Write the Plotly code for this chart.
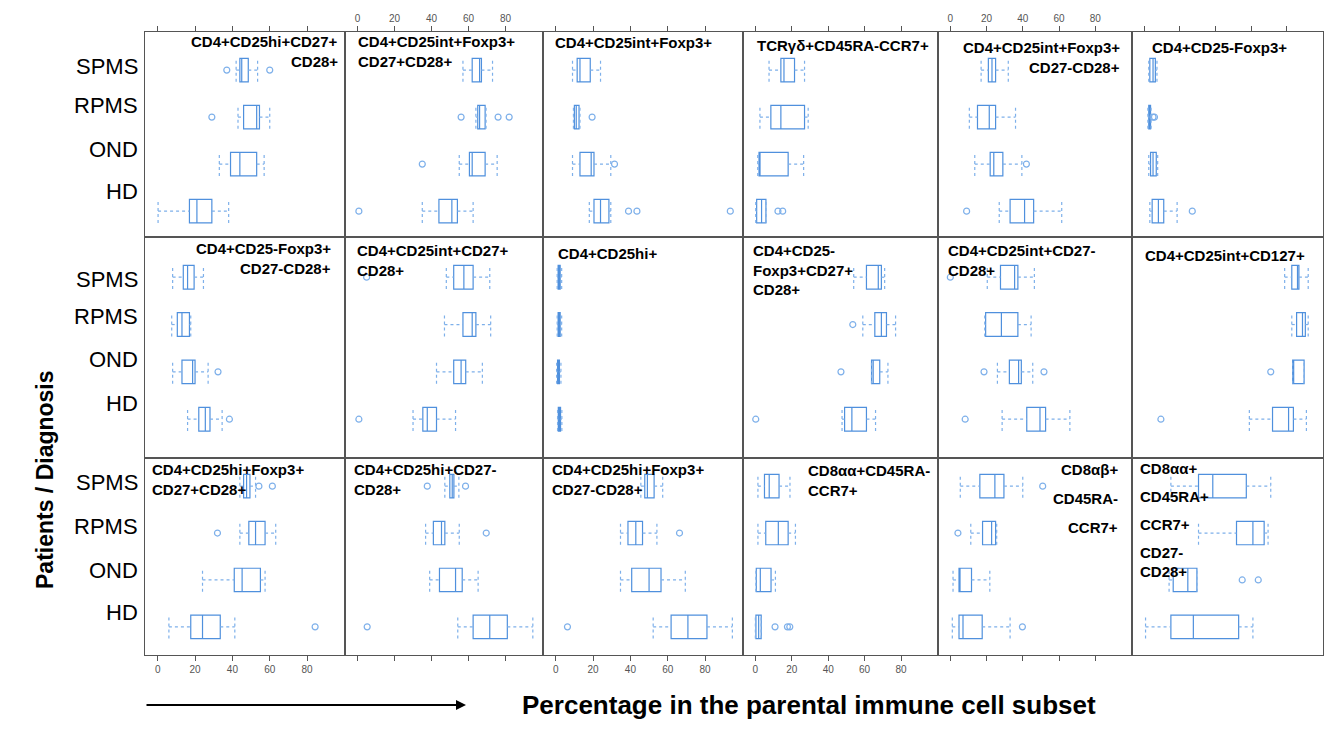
import plotly.graph_objects as go
from plotly.subplots import make_subplots

# ---------------- data ----------------
groups = ["SPMS", "RPMS", "OND", "HD"]
group_pos = [3, 2, 1, 0]

panel_titles = [
    ["CD4+CD25hi+CD27+", "CD28+"],
    ["CD4+CD25int+Foxp3+", "CD27+CD28+"],
    ["CD4+CD25int+Foxp3+"],
    ["TCRγδ+CD45RA-CCR7+"],
    ["CD4+CD25int+Foxp3+", "CD27-CD28+"],
    ["CD4+CD25-Foxp3+"],
    ["CD4+CD25-Foxp3+", "CD27-CD28+"],
    ["CD4+CD25int+CD27+", "CD28+"],
    ["CD4+CD25hi+"],
    ["CD4+CD25-", "Foxp3+CD27+", "CD28+"],
    ["CD4+CD25int+CD27-", "CD28+"],
    ["CD4+CD25int+CD127+"],
    ["CD4+CD25hi+Foxp3+", "CD27+CD28+"],
    ["CD4+CD25hi+CD27-", "CD28+"],
    ["CD4+CD25hi+Foxp3+", "CD27-CD28+"],
    ["CD8αα+CD45RA-", "CCR7+"],
    ["CD8αβ+", "CD45RA-", "CCR7+"],
    ["CD8αα+", "CD45RA+", "CCR7+", "CD27-", "CD28+"],
]

# per panel, values for [SPMS, RPMS, OND, HD]
lower_whisker = [
    [42, 43, 33, 0.2], [57, 64, 55, 35], [9, 9.5, 9, 18],
    [7.5, 2.5, 1.3, 0.2], [17, 10.5, 13.5, 27], [2.6, 2.1, 2.6, 3.2],
    [8, 7.5, 8, 16], [48, 47, 42.7, 30], [0.8, 0.8, 0.5, 1.0],
    [54, 59, 63.8, 47.6], [20.4, 19, 26, 28.6], [78.8, 82.8, 83.3, 59],
    [44, 44, 24, 6], [47.2, 36.8, 39, 54.2], [45.6, 34.7, 34.7, 52.2],
    [1.4, 1.4, 0.3, 0], [5.5, 11.3, 1.5, 1.1], [15, 30.5, 14, 0.8],
]
q1 = [
    [44, 46, 39, 17], [62, 65, 60.5, 44], [11.5, 10, 13, 20.5],
    [14, 8.5, 2, 0.7], [21, 15, 22, 33], [3.2, 2.6, 3.6, 4.5],
    [13.7, 10.5, 13, 22], [52, 57, 52, 35.3], [1.3, 1.3, 1.0, 1.4],
    [61, 65.6, 63.8, 49], [27.7, 19.5, 32.6, 42.2], [82.8, 85.5, 83.3, 72],
    [46, 48.8, 41, 17.7], [49.9, 41, 44.3, 62.5], [47.7, 38.7, 40.7, 61.8],
    [5, 5.7, 0.5, 0.3], [16.3, 17.8, 4.8, 4.8], [30.5, 51.8, 16.3, 15],
]
median = [
    [45, 53, 44, 21], [66, 66, 62, 51], [13, 11, 19, 24],
    [15.7, 14, 2.5, 3.4], [23, 21.5, 24, 41], [5, 3.2, 5, 8],
    [16, 13, 18.7, 25.5], [57.5, 62, 56, 37.7], [1.8, 1.8, 1.5, 2.0],
    [67.5, 69.2, 64.7, 53], [35.5, 28.2, 37.7, 49.5], [86, 88.8, 83.8, 81],
    [47.6, 52.4, 45.2, 24], [51.2, 45.4, 53, 71.5], [49.1, 42.9, 50, 70.8],
    [7.6, 12.6, 2.7, 1.8], [24.6, 22.8, 5.2, 7], [38.5, 61, 24.5, 27.6],
]
q3 = [
    [48.5, 54.5, 53, 29], [67, 69, 69, 54], [18.5, 12.5, 20.5, 28.5],
    [21.5, 27, 18, 5.8], [25, 25, 29, 46], [6.3, 3.6, 6.8, 11],
    [19.5, 17, 20, 28], [62.5, 64, 58.5, 42.7], [2.4, 2.4, 2.0, 2.6],
    [69.2, 72, 68.3, 61], [37.3, 37.3, 39.2, 52.6], [86.8, 90.4, 89.7, 83.7],
    [49.4, 57.5, 55, 33.5], [52.1, 47.2, 56.6, 81], [52.7, 46.5, 56.4, 81],
    [13, 18, 8.6, 3.2], [29.6, 25, 11.7, 17.6], [57.3, 67.3, 29.6, 53],
]
upper_whisker = [
    [53.5, 60, 57, 38], [73, 69.5, 75.5, 62.5], [24, 13, 29.5, 29.5],
    [27, 29, 26.5, 5.8], [32, 36, 39.5, 61.5], [7.2, 3.9, 7.6, 18.5],
    [24.5, 17.7, 27, 34.5], [71.5, 72, 67.5, 53], [3.2, 3.2, 2.8, 3.3],
    [71, 77, 72.8, 66], [46.4, 44.6, 45.5, 66], [92, 92, 89.7, 91],
    [52.4, 63.2, 57.5, 41.3], [54.8, 55, 65.2, 94.8], [57.3, 54.2, 69.4, 94.6],
    [19, 22, 11, 3.2], [40, 25.6, 21.8, 33], [71, 69.5, 29.6, 61],
]
outliers = [
    [[37, 60], [29], [], []], [[], [56, 76, 82], [35], [0.7]],
    [[], [19.5], [31.5], [39, 43.5, 93.5]], [[], [], [], [12.4, 15]],
    [[], [], [42], [9]], [[], [5, 5.8], [], [27]],
    [[], [], [32.3], [38.4]], [[4.9], [], [], [0.7]],
    [[], [], [], []], [[], [53.5], [47], [0.2]],
    [[0], [], [18.6, 51.7], [8.2]], [[], [], [71], [9.4]],
    [[54.2, 61.4], [32], [], [84.3]], [[37.7, 58.4], [69.6], [], [5.2]],
    [[], [66.3], [], [6.3]], [[], [], [], [10.8, 17.6, 18.9]],
    [[51], [4.2], [], [39.8]], [[], [], [55, 64], []],
]
x_ticks = [0, 20, 40, 60, 80]

# ---------------- layout geometry ----------------
W, H = 1325, 741
col_edges = [145, 345, 543, 743, 938, 1132, 1323]
row_edges = [32, 237, 458, 655]
row_ranges = [[-0.55, 3.81], [-0.82, 3.85], [-0.6, 3.6]]
x_range = [-6.8, 100.3]

BOX_C = "#4f90dd"
WHISK_C = "#7eb0ea"
FRAME_C = "#555555"
FONT = "Arial, Liberation Sans, sans-serif"


def px(x):
    return x / W


def py(y):
    return 1 - y / H


fig = make_subplots(rows=3, cols=6, horizontal_spacing=0, vertical_spacing=0)

for p in range(18):
    r, c = divmod(p, 6)
    # box (quartiles + median), whiskers hidden (drawn separately, dashed)
    fig.add_trace(go.Box(
        y=group_pos, q1=q1[p], median=median[p], q3=q3[p],
        lowerfence=q1[p], upperfence=q3[p], orientation="h",
        width=0.5, boxpoints=False, fillcolor="rgba(0,0,0,0)",
        line=dict(color=BOX_C, width=1.2), hoverinfo="skip", showlegend=False,
    ), row=r + 1, col=c + 1)
    wx, wy, sx, sy, ox, oy = [], [], [], [], [], []
    for g in range(4):
        yv = group_pos[g]
        wx += [lower_whisker[p][g], q1[p][g], None, q3[p][g], upper_whisker[p][g], None]
        wy += [yv, yv, None, yv, yv, None]
        for v in (lower_whisker[p][g], upper_whisker[p][g]):
            sx += [v, v, None]
            sy += [yv - 0.25, yv + 0.25, None]
        for o in outliers[p][g]:
            ox.append(o)
            oy.append(yv)
    fig.add_trace(go.Scatter(x=wx, y=wy, mode="lines",
                             line=dict(color=WHISK_C, width=1.2, dash="3px,3px"),
                             hoverinfo="skip", showlegend=False), row=r + 1, col=c + 1)
    fig.add_trace(go.Scatter(x=sx, y=sy, mode="lines",
                             line=dict(color=WHISK_C, width=1.2, dash="3px,3px"),
                             hoverinfo="skip", showlegend=False), row=r + 1, col=c + 1)
    fig.add_trace(go.Scatter(x=ox, y=oy, mode="markers",
                             marker=dict(symbol="circle-open", size=6,
                                         color=WHISK_C, line=dict(width=1.2)),
                             hoverinfo="skip", showlegend=False), row=r + 1, col=c + 1)

    idx = p + 1
    xa = "xaxis" if idx == 1 else f"xaxis{idx}"
    ya = "yaxis" if idx == 1 else f"yaxis{idx}"
    xdict = dict(
        domain=[px(col_edges[c]), px(col_edges[c + 1])],
        range=x_range, showgrid=False, zeroline=False, automargin=False,
        showline=True, mirror=True, linecolor=FRAME_C, linewidth=1,
        tickvals=x_ticks, ticklen=5, tickcolor=FRAME_C,
        tickfont=dict(size=10, color="#555", family=FONT),
    )
    if r == 0:
        xdict.update(side="top", ticks="outside", showticklabels=(c in (1, 4)))
    elif r == 2:
        xdict.update(side="bottom", ticks=("outside" if c < 5 else ""),
                     showticklabels=(c in (0, 2, 3)))
    else:
        xdict.update(ticks="", showticklabels=False)
    ydict = dict(
        domain=[py(row_edges[r + 1]), py(row_edges[r])],
        range=row_ranges[r], showgrid=False, zeroline=False, automargin=False,
        showline=True, mirror=True, linecolor=FRAME_C, linewidth=1,
        showticklabels=False, ticks="",
    )
    fig.layout[xa].update(xdict)
    fig.layout[ya].update(ydict)

annotations = []

# panel titles: (x px, first-line y px, line spacing, anchor)
title_place = [
    (340, 42, 19, "right"), (356, 42, 19, "left"), (553, 43, 19, "left"),
    (755, 45, 19, "left"), (1122, 48, 20, "right"), (1150, 48, 19, "left"),
    (333, 249, 19, "right"), (355, 250, 20, "left"), (556, 253, 19, "left"),
    (751, 251, 19.5, "left"), (946, 250, 20, "left"), (1143, 255, 19, "left"),
    (150, 469, 20, "left"), (352, 469, 20, "left"), (550, 469, 20, "left"),
    (806, 470, 20, "left"), (1120, 469, 29, "right"), (1138, 468, 28, "left"),
]
for p, lines in enumerate(panel_titles):
    x0, y0, dy, anc = title_place[p]
    for k, line in enumerate(lines):
        yy = y0 + k * dy
        if p == 17 and k == 4:
            yy = y0 + 3 * dy + 19
        annotations.append(dict(
            text=f"<b>{line}</b>", x=px(x0), y=py(yy), xref="paper", yref="paper",
            xanchor=anc, yanchor="middle", showarrow=False,
            font=dict(size=15, color="black", family=FONT),
        ))

# group labels on the left of each row
label_y = [[67, 105, 149, 191], [279, 317, 360, 403], [482, 526, 570, 612]]
for r in range(3):
    for g, name in enumerate(groups):
        annotations.append(dict(
            text=name, x=px(140), y=py(label_y[r][g]), xref="paper", yref="paper",
            xanchor="right", yanchor="middle", showarrow=False,
            font=dict(size=22, color="black", family=FONT),
        ))

# axis titles
annotations.append(dict(
    text="<b>Patients / Diagnosis</b>", x=px(45), y=py(480), xref="paper", yref="paper",
    textangle=-90, showarrow=False, xanchor="center", yanchor="middle",
    font=dict(size=23, color="black", family=FONT),
))
annotations.append(dict(
    text="<b>Percentage in the parental immune cell subset</b>",
    x=px(520), y=py(705), xref="paper", yref="paper", xanchor="left", yanchor="middle",
    showarrow=False, font=dict(size=26, color="black", family=FONT),
))
annotations.append(dict(
    text="", x=px(466), y=py(705), xref="paper", yref="paper",
    ax=-321, ay=0, showarrow=True, arrowhead=2, arrowsize=1, arrowwidth=2,
    arrowcolor="black",
))

fig.update_layout(
    width=W, height=H, margin=dict(l=0, r=0, t=0, b=0, autoexpand=False),
    paper_bgcolor="white", plot_bgcolor="white",
    annotations=annotations, showlegend=False,
    font=dict(family=FONT),
)

fig.write_html("out.html", config={"displayModeBar": False},
               post_script="document.body.style.margin='0';")
